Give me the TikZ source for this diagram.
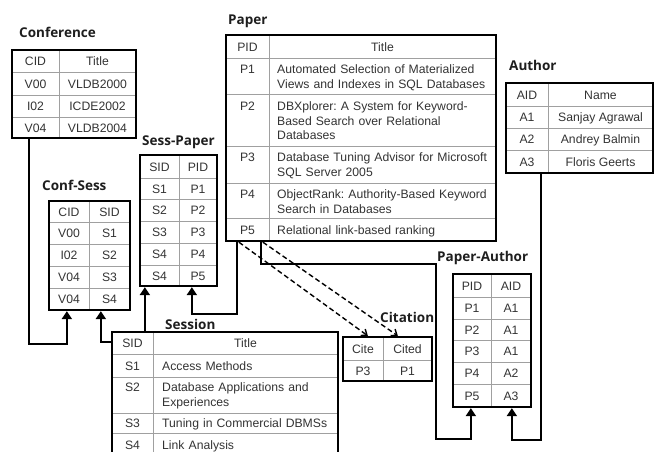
\documentclass[tikz,border=0pt]{standalone}
\usepackage{fontspec}
\newfontfamily\tabfont{Liberation Sans}
\newfontfamily\ttlfont{Open Sans}
\usetikzlibrary{arrows.meta,fit}
\definecolor{txtgray}{HTML}{333333}
\definecolor{gridgray}{HTML}{A0A0A0}
\definecolor{ttlblack}{HTML}{1E1E1E}
\frenchspacing
\tikzset{
  tabframe/.style={draw=black, line width=2.3pt, inner sep=0pt},
  gridln/.style={draw=gridgray, line width=0.9pt},
  cell/.style={font=\tabfont\fontsize{12.2}{14.5}\selectfont, text=txtgray, inner sep=0pt, text height=9pt, text depth=0pt},
  longcell/.style={font=\tabfont\fontsize{12.2}{14.5}\selectfont, text=txtgray, inner sep=0pt, anchor=base west, text width=230pt, align=left},
  ttl/.style={font=\ttlfont\bfseries\fontsize{13.5}{15}\selectfont, text=ttlblack, inner sep=0pt, anchor=base west},
  conn/.style={draw=black, line width=2.3pt, -{Triangle[length=8pt,width=10pt]}},
  dconn/.style={draw=black, line width=1.4pt, dash pattern=on 5pt off 3pt, -{Straight Barb[length=5pt,width=8pt]}},
}
\begin{document}
\begin{tikzpicture}[x=1pt,y=-1pt]
\useasboundingbox (0,0) rectangle (659,451);
\clip (0,0) rectangle (659,451);

% ---------- Conference ----------
\node[ttl] (t-conf) at (19,37) {Conference};
\draw[gridln] (59,50) -- (59,138);
\foreach \yy in {72,95,117} \draw[gridln] (12,\yy) -- (136,\yy);
\node[tabframe, fit={(12,50)(136,138)}] (conf) {};
\node[cell] (conf-h1) at (35.5,61) {CID};
\node[cell] (conf-h2) at (97.5,61) {Title};
\node[cell] (conf-11) at (35.5,83.5) {V00};
\node[cell] (conf-12) at (97.5,83.5) {VLDB2000};
\node[cell] (conf-21) at (35.5,106) {I02};
\node[cell] (conf-22) at (97.5,106) {ICDE2002};
\node[cell] (conf-31) at (35.5,127.5) {V04};
\node[cell] (conf-32) at (97.5,127.5) {VLDB2004};

% ---------- Conf-Sess ----------
\node[ttl] (t-cfs) at (42,190) {Conf-Sess};
\draw[gridln] (89,201) -- (89,310);
\foreach \yy in {222,244,266,288} \draw[gridln] (49,\yy) -- (130,\yy);
\node[tabframe, fit={(49,201)(130,310)}] (cfs) {};
\node[cell] (cfs-h1) at (69,211.5) {CID};
\node[cell] (cfs-h2) at (109.5,211.5) {SID};
\node[cell] (cfs-11) at (69,233) {V00};
\node[cell] (cfs-12) at (109.5,233) {S1};
\node[cell] (cfs-21) at (69,255) {I02};
\node[cell] (cfs-22) at (109.5,255) {S2};
\node[cell] (cfs-31) at (69,277) {V04};
\node[cell] (cfs-32) at (109.5,277) {S3};
\node[cell] (cfs-41) at (69,299) {V04};
\node[cell] (cfs-42) at (109.5,299) {S4};

% ---------- Sess-Paper ----------
\node[ttl] (t-sp) at (142,145) {Sess-Paper};
\draw[gridln] (179,155) -- (179,286);
\foreach \yy in {178,199,221,243,265} \draw[gridln] (140,\yy) -- (217,\yy);
\node[tabframe, fit={(140,155)(217,286)}] (sp) {};
\node[cell] (sp-h1) at (159.5,166.5) {SID};
\node[cell] (sp-h2) at (198,166.5) {PID};
\node[cell] (sp-11) at (159.5,188.5) {S1};
\node[cell] (sp-12) at (198,188.5) {P1};
\node[cell] (sp-21) at (159.5,210) {S2};
\node[cell] (sp-22) at (198,210) {P2};
\node[cell] (sp-31) at (159.5,232) {S3};
\node[cell] (sp-32) at (198,232) {P3};
\node[cell] (sp-41) at (159.5,254) {S4};
\node[cell] (sp-42) at (198,254) {P4};
\node[cell] (sp-51) at (159.5,275.5) {S4};
\node[cell] (sp-52) at (198,275.5) {P5};

% ---------- Paper ----------
\node[ttl] (t-paper) at (228,24) {Paper};
\draw[gridln] (269,35) -- (269,241);
\foreach \yy in {58,94,146,183,218} \draw[gridln] (226,\yy) -- (496,\yy);
\node[tabframe, fit={(226,35)(496,241)}] (paper) {};
\node[cell] (paper-h1) at (247.5,46.5) {PID};
\node[cell] (paper-h2) at (382.5,46.5) {Title};
\node[cell] (paper-11) at (247.5,69) {P1};
\node[longcell] (paper-12) at (277,73.5) {Automated Selection of Materialized\\Views and Indexes in SQL Databases};
\node[cell] (paper-21) at (247.5,106) {P2};
\node[longcell] (paper-22) at (277,110.5) {DBXplorer: A System for Keyword-\\Based Search over Relational\\Databases};
\node[cell] (paper-31) at (247.5,157) {P3};
\node[longcell] (paper-32) at (277,161.5) {Database Tuning Advisor for Microsoft\\SQL Server 2005};
\node[cell] (paper-41) at (247.5,194) {P4};
\node[longcell] (paper-42) at (277,198.5) {ObjectRank: Authority-Based Keyword\\Search in Databases};
\node[cell] (paper-51) at (247.5,230) {P5};
\node[longcell] (paper-52) at (277,234.5) {Relational link-based ranking};

% ---------- Author ----------
\node[ttl] (t-auth) at (509,70) {Author};
\draw[gridln] (548,83) -- (548,173);
\foreach \yy in {106,128,150} \draw[gridln] (506,\yy) -- (653,\yy);
\node[tabframe, fit={(506,83)(653,173)}] (auth) {};
\node[cell] (auth-h1) at (527,94.5) {AID};
\node[cell] (auth-h2) at (600.5,94.5) {Name};
\node[cell] (auth-11) at (527,117) {A1};
\node[cell] (auth-12) at (600.5,117) {Sanjay Agrawal};
\node[cell] (auth-21) at (527,139) {A2};
\node[cell] (auth-22) at (600.5,139) {Andrey Balmin};
\node[cell] (auth-31) at (527,161.5) {A3};
\node[cell] (auth-32) at (600.5,161.5) {Floris Geerts};

% ---------- Session ----------
\node[ttl] (t-sess) at (165,329) {Session};
\draw[gridln] (153,332) -- (153,470);
\foreach \yy in {354,377,413,433} \draw[gridln] (112,\yy) -- (338,\yy);
\node[tabframe, fit={(112,332)(338,470)}] (sess) {};
\node[cell] (sess-h1) at (132.5,343) {SID};
\node[cell] (sess-h2) at (245.5,343) {Title};
\node[cell] (sess-11) at (132.5,365.5) {S1};
\node[longcell] (sess-12) at (162,370) {Access Methods};
\node[cell] (sess-21) at (132.5,387) {S2};
\node[longcell] (sess-22) at (162,391.5) {Database Applications and\\Experiences};
\node[cell] (sess-31) at (132.5,423) {S3};
\node[longcell] (sess-32) at (162,427.5) {Tuning in Commercial DBMSs};
\node[cell] (sess-41) at (132.5,445) {S4};
\node[longcell] (sess-42) at (162,449.5) {Link Analysis};

% ---------- Citation ----------
\node[ttl] (t-cit) at (380,322) {Citation};
\draw[gridln] (383,337) -- (383,381);
\draw[gridln] (343,360) -- (432,360);
\node[tabframe, fit={(343,337)(432,381)}] (cit) {};
\node[cell] (cit-h1) at (363,348.5) {Cite};
\node[cell] (cit-h2) at (407.5,348.5) {Cited};
\node[cell] (cit-11) at (363,370.5) {P3};
\node[cell] (cit-12) at (407.5,370.5) {P1};

% ---------- Paper-Author ----------
\node[ttl] (t-pa) at (437,261) {Paper-Author};
\draw[gridln] (491,274) -- (491,407);
\foreach \yy in {297,319,340,362,384} \draw[gridln] (453,\yy) -- (531,\yy);
\node[tabframe, fit={(453,274)(531,407)}] (pa) {};
\node[cell] (pa-h1) at (472,285.5) {PID};
\node[cell] (pa-h2) at (511,285.5) {AID};
\node[cell] (pa-11) at (472,308) {P1};
\node[cell] (pa-12) at (511,308) {A1};
\node[cell] (pa-21) at (472,329.5) {P2};
\node[cell] (pa-22) at (511,329.5) {A1};
\node[cell] (pa-31) at (472,351) {P3};
\node[cell] (pa-32) at (511,351) {A1};
\node[cell] (pa-41) at (472,373) {P4};
\node[cell] (pa-42) at (511,373) {A2};
\node[cell] (pa-51) at (472,395.5) {P5};
\node[cell] (pa-52) at (511,395.5) {A3};

% ---------- Connectors ----------
\draw[conn] ([xshift=18pt]conf.south west) -- ++(0,205) -| ([xshift=19pt]cfs.south west);
\draw[conn] ([yshift=-11pt]sess.north west) -| ([xshift=53pt]cfs.south west);
\draw[conn] ([xshift=34pt]sess.north west) -- ([xshift=6pt]sp.south west);
\draw[conn] ([xshift=12pt]paper.south west) -- ++(0,72) -| ([xshift=53pt]sp.south west);
\draw[conn] ([xshift=36pt]paper.south west) -- ++(0,22) -- ++(175,0) -- ++(0,175) -| ([xshift=19pt]pa.south west);
\draw[conn] ([xshift=36pt]auth.south west) -- ++(0,266) -| ([xshift=60pt]pa.south west);
\draw[dconn] ([xshift=14pt]paper.south west) -- ([xshift=26pt]cit.north west);
\draw[dconn] ([xshift=38pt]paper.south west) -- ([xshift=56pt]cit.north west);
\end{tikzpicture}
\end{document}
